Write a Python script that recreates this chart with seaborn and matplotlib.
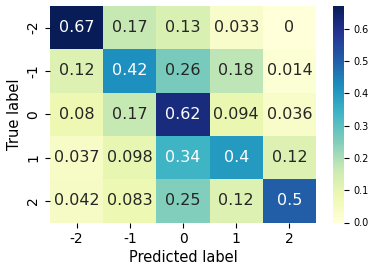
import numpy as np
import pandas as pd
import seaborn as sns
import matplotlib
matplotlib.use("Agg")
import matplotlib.pyplot as plt

labels = ["-2", "-1", "0", "1", "2"]
row_m2 = [0.67, 0.17, 0.13, 0.033, 0.0]
row_m1 = [0.12, 0.42, 0.26, 0.18, 0.014]
row_0 = [0.08, 0.17, 0.62, 0.094, 0.036]
row_1 = [0.037, 0.098, 0.34, 0.4, 0.12]
row_2 = [0.042, 0.083, 0.25, 0.12, 0.5]

df = pd.DataFrame([row_m2, row_m1, row_0, row_1, row_2], index=labels, columns=labels)

fig = plt.figure(figsize=(3.74, 2.71), dpi=100)
ax = fig.add_axes([50/374, 1 - 222.5/271, 266/374, 216.5/271])
cax = fig.add_axes([333/374, 1 - 222.5/271, 11/374, 216.5/271])
sns.heatmap(df, annot=True, cmap="YlGnBu", ax=ax, cbar_ax=cax, vmin=0,
            annot_kws={"fontsize": 11.5})
ax.set_xlabel("Predicted label", fontsize=10.5, labelpad=3)
ax.set_ylabel("True label", fontsize=10.5, labelpad=3)
ax.tick_params(labelsize=10)
cax.tick_params(labelsize=7)
fig.savefig("out.png", dpi=100)
